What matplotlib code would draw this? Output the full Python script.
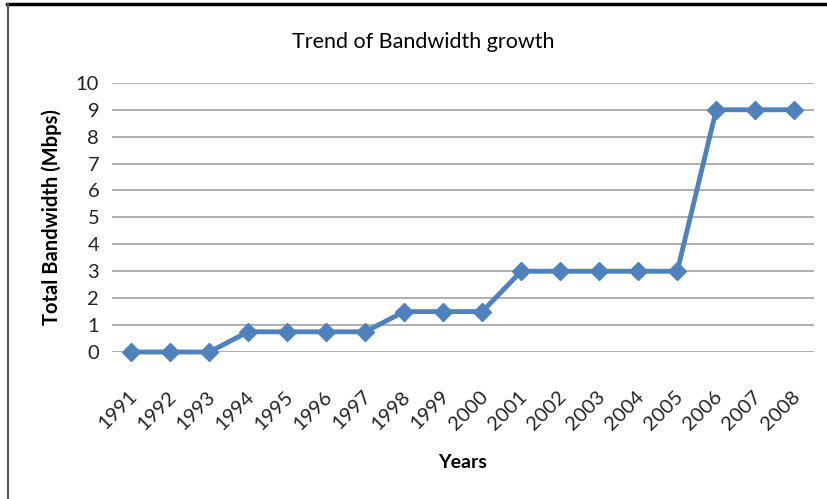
import matplotlib.pyplot as plt
from matplotlib.lines import Line2D
from matplotlib.transforms import ScaledTranslation

years = ['1991', '1992', '1993', '1994', '1995', '1996', '1997', '1998', '1999',
         '2000', '2001', '2002', '2003', '2004', '2005', '2006', '2007', '2008']
bandwidth = [0, 0, 0, 0.75, 0.75, 0.75, 0.75, 1.5, 1.5, 1.5, 3, 3, 3, 3, 3, 9, 9, 9]

plt.rcParams['font.family'] = ['Lato', 'DejaVu Sans']

fig = plt.figure(figsize=(8.27, 4.99), dpi=100)
ax = fig.add_axes([0.135, 0.2946, 0.849, 0.5394])

x = list(range(len(years)))
ax.plot(x, bandwidth, color='#4F81BD', linewidth=3.5, marker='D', markersize=9,
        zorder=3, clip_on=False)

ax.set_xlim(-0.5, len(years) - 0.5)
ax.set_ylim(0, 10)
ax.set_yticks(range(0, 11))
ax.set_xticks(x)
ax.tick_params(axis='both', length=0, colors='#222222')
ax.tick_params(axis='y', pad=9, labelsize=14.5)
ax.tick_params(axis='x', pad=30, labelsize=14.5)
ax.set_xticklabels(years, rotation=45, ha='right', va='center', rotation_mode='anchor',
                   fontsize=14.5)
# nudge year labels a bit right like the original
shift = ScaledTranslation(3 / 100, 0, fig.dpi_scale_trans)
for lab in ax.get_xticklabels():
    lab.set_transform(lab.get_transform() + shift)

ax.grid(axis='y', color='#9a9a9a', linewidth=1.1)
ax.set_axisbelow(True)
for s in ax.spines.values():
    s.set_visible(False)

ax.set_ylabel('Total Bandwidth (Mbps)', fontsize=14.5, fontweight='bold', labelpad=10)
ax.set_xlabel('Years', fontsize=14, fontweight='bold', labelpad=15)
fig.text(0.512, 0.915, 'Trend of Bandwidth growth', ha='center', va='center', fontsize=15.5)

# border of the original picture
fig.add_artist(Line2D([0.009, 1.0], [0.991, 0.991], color='black', linewidth=2.5,
                      transform=fig.transFigure))
fig.add_artist(Line2D([0.01, 0.01], [0.0, 0.991], color='#555555', linewidth=1.5,
                      transform=fig.transFigure))

fig.savefig('out.png', dpi=100)
